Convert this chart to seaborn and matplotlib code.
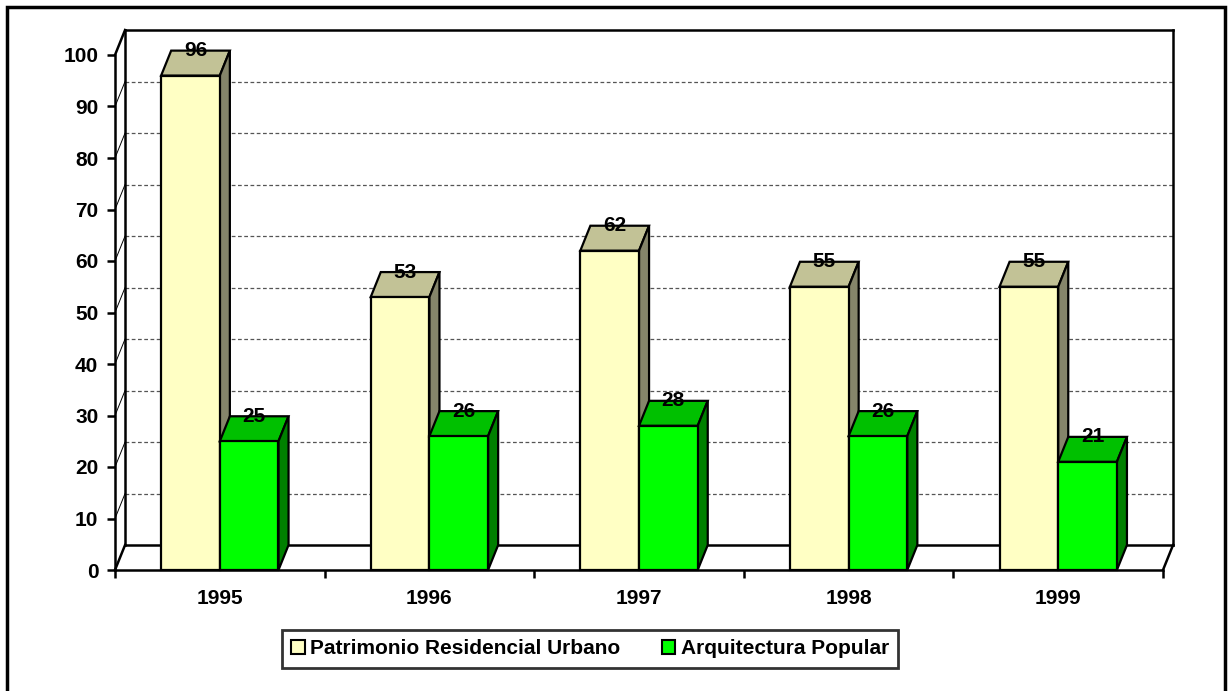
import numpy as np
import pandas as pd
import matplotlib
matplotlib.use("Agg")
import matplotlib.pyplot as plt
import matplotlib.colors as mcolors
from matplotlib.patches import Polygon, Patch, Rectangle
import seaborn as sns

# %% Data
years = ['1995', '1996', '1997', '1998', '1999']
patrimonio = [96, 53, 62, 55, 55]
arquitectura = [25, 26, 28, 26, 21]
series_names = ['Patrimonio Residencial Urbano', 'Arquitectura Popular']
y_ticks = [0, 10, 20, 30, 40, 50, 60, 70, 80, 90, 100]

df = pd.DataFrame({
    'Año': years * 2,
    'Valor': patrimonio + arquitectura,
    'Serie': [series_names[0]] * len(years) + [series_names[1]] * len(years),
})

# %% Style
sns.set_style("white")
plt.rcParams['font.family'] = ['Liberation Sans', 'DejaVu Sans']
plt.rcParams['font.weight'] = 'bold'
for key in ['text.color', 'xtick.color', 'ytick.color', 'axes.labelcolor', 'axes.edgecolor']:
    plt.rcParams[key] = 'black'

front = {series_names[0]: '#FFFFC4', series_names[1]: '#00FF00'}
top = {series_names[0]: '#C2C296', series_names[1]: '#00C000'}
side = {series_names[0]: '#85856A', series_names[1]: '#008000'}

DX, DY = 0.048, 4.85  # 3D depth offset in data units
FS = 15

fig = plt.figure(figsize=(12.32, 6.91), dpi=100)
ax = fig.add_axes([115 / 1232, 1 - 570 / 691, 1048 / 1232, 515 / 691])

sns.barplot(data=df, x='Año', y='Valor', hue='Serie', hue_order=series_names,
            palette=front, saturation=1, width=0.56, edgecolor='black',
            linewidth=1.6, legend=False, ax=ax)

xl, xr = -0.5, len(years) - 0.5
ax.set_xlim(xl, xr)
ax.set_ylim(0, 100)

# %% Walls, floor, gridlines
wall = dict(color='black', lw=1.8, clip_on=False, zorder=1.5, solid_capstyle='projecting')
ax.plot([xl + DX, xl + DX], [DY, 100 + DY], **wall)
ax.plot([xr + DX, xr + DX], [DY, 100 + DY], **wall)
ax.plot([xl + DX, xr + DX], [100 + DY, 100 + DY], **wall)
ax.plot([xl + DX, xr + DX], [DY, DY], **wall)
ax.plot([xl, xl + DX], [0, DY], **wall)
ax.plot([xr, xr + DX], [0, DY], **wall)
ax.plot([xl, xl + DX], [100, 100 + DY], **wall)
for v in y_ticks[1:-1]:
    ax.plot([xl + DX, xr + DX], [v + DY, v + DY], color='#555555', lw=0.9,
            ls=(0, (3, 2)), clip_on=False, zorder=1)
    ax.plot([xl, xl + DX], [v, v + DY], color='black', lw=0.7,
            clip_on=False, zorder=1)

# %% 3D faces of the bars
bars = sorted([p for p in ax.patches if p.get_height() > 0], key=lambda p: p.get_x())
lookup_front = {mcolors.to_hex(c): k for k, c in front.items()}
for i, p in enumerate(bars):
    x0, w, h = p.get_x(), p.get_width(), p.get_height()
    serie = lookup_front.get(mcolors.to_hex(p.get_facecolor()),
                             series_names[i % 2])
    z = 3 + i
    p.set_zorder(z + 0.2)
    p.set_clip_on(False)
    top_face = Polygon([(x0, h), (x0 + DX, h + DY), (x0 + w + DX, h + DY), (x0 + w, h)],
                       closed=True, fc=top[serie], ec='black', lw=1.6,
                       zorder=z, clip_on=False, joinstyle='miter')
    side_face = Polygon([(x0 + w, 0), (x0 + w + DX, DY), (x0 + w + DX, h + DY), (x0 + w, h)],
                        closed=True, fc=side[serie], ec='black', lw=1.6,
                        zorder=z, clip_on=False, joinstyle='miter')
    ax.add_patch(top_face)
    ax.add_patch(side_face)
    ax.text(x0 + w / 2 + DX / 2, h + DY, f"{h:.0f}", ha='center', va='center',
            fontsize=FS, fontweight='bold', color='black', zorder=50, clip_on=False)

# %% Axes styling
for s in ['top', 'right']:
    ax.spines[s].set_visible(False)
for s in ['left', 'bottom']:
    ax.spines[s].set_linewidth(1.8)
    ax.spines[s].set_zorder(40)
ax.set_yticks(y_ticks)
ax.set_yticklabels([str(t) for t in y_ticks], fontsize=FS, fontweight='bold')
ax.tick_params(axis='y', length=6, width=1.8, pad=6, left=True, colors='black')
ax.set_xticks(range(len(years)))
ax.set_xticklabels(years, fontsize=FS, fontweight='bold')
ax.set_xticks(np.arange(xl, xr + 0.01, 1.0), minor=True)
ax.tick_params(axis='x', which='major', length=0, pad=13.5, colors='black')
ax.tick_params(axis='x', which='minor', length=6, width=1.8, bottom=True, colors='black')
ax.set_xlabel('')
ax.set_ylabel('')

# %% Legend
handles = [Patch(facecolor=front[n], edgecolor='black', linewidth=1.5) for n in series_names]
leg = fig.legend(handles, series_names, loc='center', bbox_to_anchor=(590 / 1232, 1 - 649 / 691),
                 ncol=2, frameon=True, fancybox=False, edgecolor='black',
                 prop={'size': FS, 'weight': 'bold'}, handlelength=0.65, handleheight=0.65,
                 handletextpad=0.25, columnspacing=2.0, borderpad=0.45, borderaxespad=0)
leg.get_frame().set_linewidth(2)

# %% Outer frame
fig.patches.append(Rectangle((7 / 1232, -0.05), 1218 / 1232, 1.05 - 7 / 691,
                             transform=fig.transFigure, fill=False, ec='black', lw=2.5))

fig.savefig('out.png', dpi=100)
